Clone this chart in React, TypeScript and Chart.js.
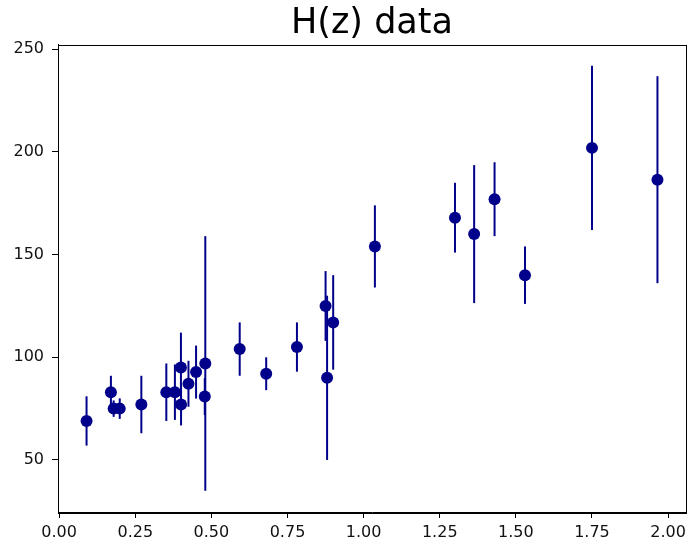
import React, { useEffect, useRef } from "react";
import { Chart, registerables } from "chart.js";

Chart.register(...registerables);

const redshift = [0.09, 0.17, 0.179, 0.199, 0.27, 0.352, 0.3802, 0.4, 0.4004, 0.4247, 0.4497, 0.4783, 0.48, 0.593, 0.68, 0.781, 0.875, 0.88, 0.9, 1.037, 1.3, 1.363, 1.43, 1.53, 1.75, 1.965];
const hubble = [69, 83, 75, 75, 77, 83, 83, 95, 77, 87.1, 92.8, 80.9, 97, 104, 92, 105, 125, 90, 117, 154, 168, 160, 177, 140, 202, 186.5];
const hubbleErr = [12, 8, 4, 5, 14, 14, 13.5, 17, 10.2, 11.2, 12.9, 9, 62, 13, 8, 12, 17, 40, 23, 20, 17, 33.6, 18, 14, 40, 50.4];
const xTicks = [0, 0.25, 0.5, 0.75, 1.0, 1.25, 1.5, 1.75, 2.0];
const yTicks = [50, 100, 150, 200, 250];
const titleText = "H(z) data";

const COLOR = "#00008B";
const FONT = "'DejaVu Sans', sans-serif";

export default function App() {
  const ref = useRef<HTMLCanvasElement | null>(null);

  useEffect(() => {
    if (!ref.current) return;
    const errorBars = {
      id: "errorBars",
      beforeDatasetsDraw(chart: any) {
        const ctx = chart.ctx;
        const xs = chart.scales.x;
        const ys = chart.scales.y;
        ctx.save();
        ctx.strokeStyle = COLOR;
        ctx.lineWidth = 2;
        redshift.forEach((z, i) => {
          const px = xs.getPixelForValue(z);
          const top = ys.getPixelForValue(hubble[i] + hubbleErr[i]);
          const bot = ys.getPixelForValue(hubble[i] - hubbleErr[i]);
          ctx.beginPath();
          ctx.moveTo(px, top);
          ctx.lineTo(px, bot);
          ctx.stroke();
        });
        ctx.restore();
      },
      afterDraw(chart: any) {
        const ctx = chart.ctx;
        const a = chart.chartArea;
        ctx.save();
        ctx.strokeStyle = "#000";
        ctx.lineWidth = 1;
        ctx.strokeRect(Math.round(a.left) + 0.5, Math.round(a.top) + 0.5, Math.round(a.right - a.left), Math.round(a.bottom - a.top));
        ctx.fillStyle = "#000";
        ctx.font = `35px ${FONT}`;
        ctx.textAlign = "center";
        ctx.textBaseline = "alphabetic";
        ctx.fillText(titleText, (a.left + a.right) / 2, 33);
        ctx.restore();
      },
    };

    const chart = new Chart(ref.current, {
      type: "scatter",
      data: {
        datasets: [
          {
            data: redshift.map((z, i) => ({ x: z, y: hubble[i] })),
            backgroundColor: COLOR,
            borderColor: COLOR,
            pointRadius: 6,
            pointHoverRadius: 6,
            borderWidth: 0,
          },
        ],
      },
      options: {
        animation: false,
        responsive: true,
        maintainAspectRatio: false,
        layout: { autoPadding: false, padding: { top: 44.5, right: 2, left: 0, bottom: 0 } },
        plugins: {
          legend: { display: false },
          title: { display: false },
          tooltip: { enabled: false },
        },
        scales: {
          x: {
            type: "linear",
            min: -0.00375,
            max: 2.05875,
            afterBuildTicks: (s: any) => {
              s.ticks = xTicks.map((v) => ({ value: v }));
            },
            afterFit: (s: any) => {
              s.height = 34;
              s.paddingLeft = 0;
              s.paddingRight = 0;
            },
            ticks: {
              color: "#111",
              font: { family: FONT, size: 16 },
              padding: 5,
              maxRotation: 0,
              autoSkip: false,
              callback: (v: any) => Number(v).toFixed(2),
            },
            grid: { display: true, drawOnChartArea: false, drawTicks: true, tickLength: 6, color: "#000", lineWidth: 1 },
            border: { display: true, color: "#000", width: 1 },
          },
          y: {
            type: "linear",
            min: 24.65,
            max: 252.35,
            afterBuildTicks: (s: any) => {
              s.ticks = yTicks.map((v) => ({ value: v }));
            },
            afterFit: (s: any) => {
              s.width = 58;
              s.paddingTop = 0;
              s.paddingBottom = 0;
            },
            ticks: {
              color: "#111",
              font: { family: FONT, size: 16 },
              padding: 8,
              autoSkip: false,
              callback: (v: any) => String(v),
            },
            grid: { display: true, drawOnChartArea: false, drawTicks: true, tickLength: 6, color: "#000", lineWidth: 1 },
            border: { display: true, color: "#000", width: 1 },
          },
        },
      },
      plugins: [errorBars],
    });
    return () => chart.destroy();
  }, []);

  return (
    <div style={{ position: "absolute", left: 0, top: 0, width: 688, height: 546, background: "#fff" }}>
      <canvas ref={ref} />
    </div>
  );
}
